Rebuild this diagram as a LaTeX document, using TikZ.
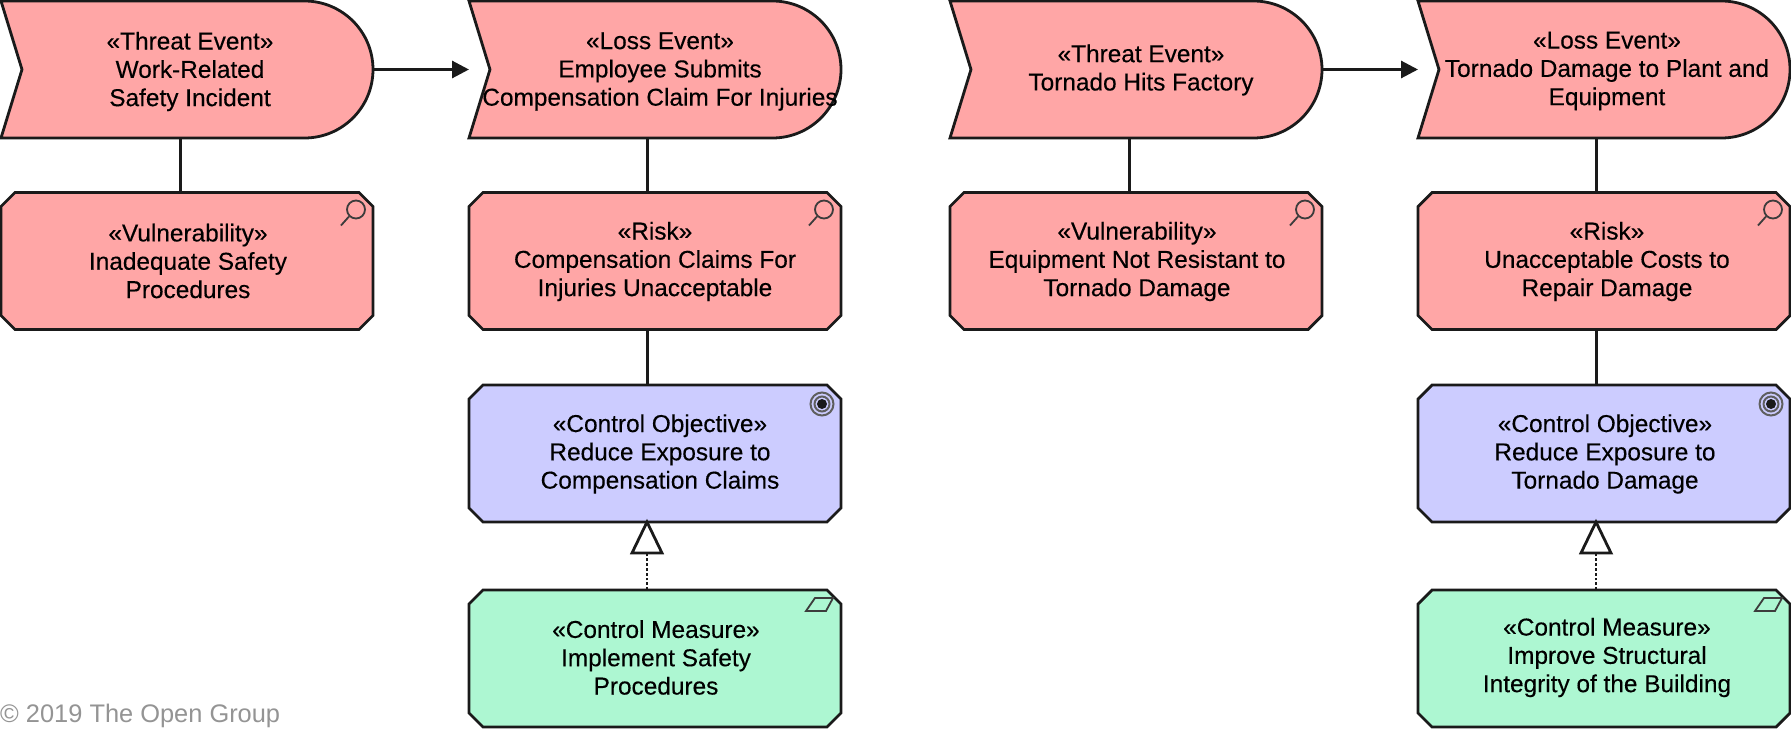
\documentclass[tikz,border=0pt]{standalone}
\usepackage{fontspec}
\setmainfont{Liberation Sans}
\newfontfamily\capfont[FakeBold=0.25]{Liberation Sans}
\usetikzlibrary{arrows.meta,calc}
\definecolor{riskfill}{HTML}{FFA6A6}
\definecolor{goalfill}{HTML}{CCCCFF}
\definecolor{ctrlfill}{HTML}{ADF7D2}
\definecolor{edge}{HTML}{1A1A1A}
\tikzset{
  x=1pt,y=-1pt,
  frame/.style={inner sep=0pt,outer sep=0pt,minimum width=372pt,minimum height=137pt},
  outline/.style={draw=edge,line width=2.8pt,line join=miter},
  caption/.style={align=center,inner sep=0pt,text=black,font=\capfont\fontsize{24.4}{28.3}\selectfont},
  link/.style={draw=edge,line width=3pt},
  icon/.style={draw=edge!85,line width=1.8pt},
  flow/.style={link,-{Triangle[length=17pt,width=17pt]}},
  realize/.style={draw=edge,line width=2.8pt,dotted},
  opentip/.style={draw=edge,line width=2.8pt,fill=white,line join=miter},
}
% name, centre x, centre y, fill
\newcommand{\eventshape}[4]{%
  \node[frame] (#1) at (#2,#3) {};
  \draw[outline,fill=#4] (#1.north west) -- ([xshift=-68.5pt]#1.north east)
    arc[start angle=90,end angle=-90,radius=68.5pt]
    -- (#1.south west) -- ([xshift=21pt]#1.west) -- cycle;
}
\newcommand{\octshape}[4]{%
  \node[frame] (#1) at (#2,#3) {};
  \draw[outline,fill=#4] ([xshift=14pt]#1.north west) -- ([xshift=-14pt]#1.north east)
    -- ([yshift=-14pt]#1.north east) -- ([yshift=14pt]#1.south east)
    -- ([xshift=-14pt]#1.south east) -- ([xshift=14pt]#1.south west)
    -- ([yshift=14pt]#1.south west) -- ([yshift=-14pt]#1.north west) -- cycle;
}
\newcommand{\lens}[1]{%
  \begin{scope}[shift={(#1.north east)}]
    \draw[icon] (-17,17) circle[radius=9pt];
    \draw[icon] (-24,24) -- (-32,33);
  \end{scope}}
\newcommand{\target}[1]{%
  \begin{scope}[shift={(#1.north east)}]
    \draw[draw=edge!70,line width=2pt] (-19,19) circle[radius=11.5pt];
    \draw[draw=edge!70,line width=2pt] (-19,19) circle[radius=7.5pt];
    \fill[edge] (-19,19) circle[radius=5pt];
  \end{scope}}
\newcommand{\slab}[1]{%
  \begin{scope}[shift={(#1.north east)}]
    \draw[icon] (-35,21) -- (-26,8) -- (-8,8) -- (-15,21) -- cycle;
  \end{scope}}
\begin{document}
\begin{tikzpicture}
\useasboundingbox (0,0) rectangle (1791,731);
\fill[white] (0,0) rectangle (1791,731);

% Column 1
\eventshape{te1}{187}{69.5}{riskfill}
\node[caption] (te1t) at (190,71.5) {«Threat Event»\\Work-Related\\Safety Incident};
\octshape{v1}{187}{261}{riskfill}\lens{v1}
\node[caption] (v1t) at (188,261) {«Vulnerability»\\Inadequate Safety\\Procedures};

% Column 2
\eventshape{le1}{655}{69.5}{riskfill}
\node[caption] (le1t) at (660,71.5) {«Loss Event»\\Employee Submits\\Compensation Claim For Injuries};
\octshape{r1}{655}{261}{riskfill}\lens{r1}
\node[caption] (r1t) at (655,261.5) {«Risk»\\Compensation Claims For\\Injuries Unacceptable};
\octshape{o1}{655}{453.5}{goalfill}\target{o1}
\node[caption] (o1t) at (660,454) {«Control Objective»\\Reduce Exposure to\\Compensation Claims};
\octshape{m1}{655}{658.5}{ctrlfill}\slab{m1}
\node[caption] (m1t) at (656,657.5) {«Control Measure»\\Implement Safety\\Procedures};

% Column 3
\eventshape{te2}{1136}{69.5}{riskfill}
\node[caption] (te2t) at (1141,70) {«Threat Event»\\Tornado Hits Factory};
\octshape{v2}{1136}{261}{riskfill}\lens{v2}
\node[caption] (v2t) at (1137,261.5) {«Vulnerability»\\Equipment Not Resistant to\\Tornado Damage};

% Column 4
\eventshape{le2}{1604}{69.5}{riskfill}
\node[caption] (le2t) at (1607,71) {«Loss Event»\\Tornado Damage to Plant and\\Equipment};
\octshape{r2}{1604}{261}{riskfill}\lens{r2}
\node[caption] (r2t) at (1607,261.5) {«Risk»\\Unacceptable Costs to\\Repair Damage};
\octshape{o2}{1604}{453.5}{goalfill}\target{o2}
\node[caption] (o2t) at (1605,454) {«Control Objective»\\Reduce Exposure to\\Tornado Damage};
\octshape{m2}{1604}{658.5}{ctrlfill}\slab{m2}
\node[caption] (m2t) at (1607,657.5) {«Control Measure»\\Improve Structural\\Integrity of the Building};

% Connectors
\draw[flow] (te1.east) -- (le1.west);
\draw[flow] (te2.east) -- (le2.west);
\draw[link] ([xshift=-7pt]te1.south) -- ([xshift=-7pt]v1.north);
\draw[link] ([xshift=-8pt]le1.south) -- ([xshift=-8pt]r1.north);
\draw[link] ([xshift=-8pt]r1.south) -- ([xshift=-8pt]o1.north);
\draw[link] ([xshift=-7pt]te2.south) -- ([xshift=-7pt]v2.north);
\draw[link] ([xshift=-8pt]le2.south) -- ([xshift=-8pt]r2.north);
\draw[link] ([xshift=-8pt]r2.south) -- ([xshift=-8pt]o2.north);
\foreach \obj/\mea in {o1/m1,o2/m2}{
  \coordinate (\obj tip) at ([xshift=-8pt]\obj.south);
  \draw[realize] ([xshift=-8pt]\mea.north) -- ([yshift=-31pt]\obj tip);
  \draw[opentip] (\obj tip) -- ([xshift=-15pt,yshift=-31pt]\obj tip) -- ([xshift=15pt,yshift=-31pt]\obj tip) -- cycle;
}

\node[anchor=west,inner sep=0pt,text=black!42,font=\fontsize{25.4}{28}\selectfont] (copy) at (0,716) {© 2019 The Open Group};
\end{tikzpicture}
\end{document}
